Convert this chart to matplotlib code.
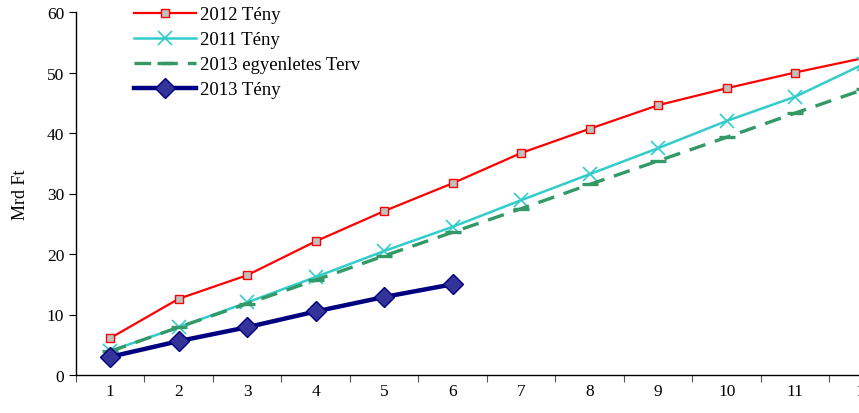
import matplotlib.pyplot as plt

plt.rcParams['font.family'] = ['Liberation Serif', 'DejaVu Serif']

months = list(range(1, 13))
teny_2012 = [6.1, 12.6, 16.5, 22.1, 27.1, 31.7, 36.7, 40.7, 44.6, 47.4, 50.0, 52.4]
teny_2011 = [4.0, 7.9, 12.0, 16.2, 20.5, 24.5, 28.9, 33.2, 37.5, 42.0, 46.0, 51.4]
terv_2013 = [3.9, 7.9, 11.8, 15.7, 19.7, 23.6, 27.5, 31.5, 35.4, 39.3, 43.3, 47.2]
teny_2013 = [3.0, 5.6, 7.9, 10.5, 12.9, 15.0]

W, H = 859, 414
fig = plt.figure(figsize=(W / 100, H / 100), dpi=100)
# plot area runs past the right edge (month 12 sits on the border)
ax = fig.add_axes([76 / W, 38 / H, (898 - 76) / W, (376 - 13) / H])

ax.plot(months, teny_2012, color='#ff0000', lw=1.6, marker='s', ms=6,
        mfc='#c0c0c0', mec='#ff0000', mew=1, label='2012 Tény')
ax.plot(months, teny_2011, color='#33cccc', lw=1.8, marker='x', ms=10,
        mew=1.2, label='2011 Tény')
ax.plot(months, terv_2013, color='#339966', lw=2.4, ls=(0, (5, 3)),
        marker='_', ms=12, mew=2.4, label='2013 egyenletes Terv')
ax.plot(months[:len(teny_2013)], teny_2013, color='#000080', lw=3.2,
        marker='D', ms=10, mfc='#333399', mec='#000080', mew=1,
        label='2013 Tény')

ax.set_xlim(0.5, 12.5)
ax.set_ylim(0, 60)
ax.set_yticks(range(0, 61, 10))
ax.set_xticks(months)
ax.set_xticks([m + 0.5 for m in range(0, 12)], minor=True)
ax.tick_params(axis='x', which='major', length=0, pad=6, labelsize=12.5)
ax.tick_params(axis='x', which='minor', length=5, width=0.8, color='#555555')
ax.tick_params(axis='y', length=5, width=0.8, labelsize=12.5)
ax.spines[['top', 'right']].set_visible(False)
ax.spines[['left', 'bottom']].set_linewidth(1.0)
ax.set_ylabel('Mrd Ft', fontsize=13)
ax.yaxis.set_label_coords(-0.057, 0.5)

ax.legend(loc='upper left', bbox_to_anchor=(133 / W, 1 - 6 / H), bbox_transform=fig.transFigure,
          frameon=False, fontsize=13.5, handlelength=3.3, handletextpad=0.2,
          labelspacing=0.42, borderaxespad=0, borderpad=0.05)

fig.savefig('out.png', dpi=100)
